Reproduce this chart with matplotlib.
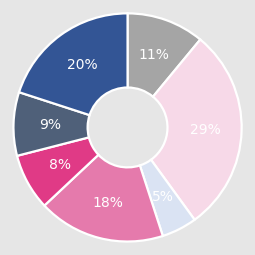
import matplotlib
matplotlib.use("Agg")
import matplotlib.pyplot as plt

labels = ["11%", "29%", "5%", "18%", "8%", "9%", "20%"]
values = [11, 29, 5, 18, 8, 9, 20]
colors = ["#a5a5a5", "#f7d9e8", "#dae3f3", "#e57aac", "#e03a86", "#4f6079", "#335595"]

bg = "#e6e6e6"
fig = plt.figure(figsize=(2.551, 2.551), dpi=100, facecolor=bg)
ax = fig.add_axes([0, 0, 1, 1])
ax.set_facecolor(bg)

wedges, texts = ax.pie(
    values,
    colors=colors,
    startangle=90,
    counterclock=False,
    radius=1.0,
    labels=labels,
    labeldistance=0.68,
    wedgeprops=dict(width=0.65, edgecolor="white", linewidth=1.6),
    textprops=dict(color="white", fontsize=10, ha="center", va="center"),
)

ax.set_xlim(-1.118, 1.118)
ax.set_ylim(-1.118, 1.118)
ax.set_aspect("equal")
ax.axis("off")

fig.savefig("out.png", dpi=100, facecolor=bg)
